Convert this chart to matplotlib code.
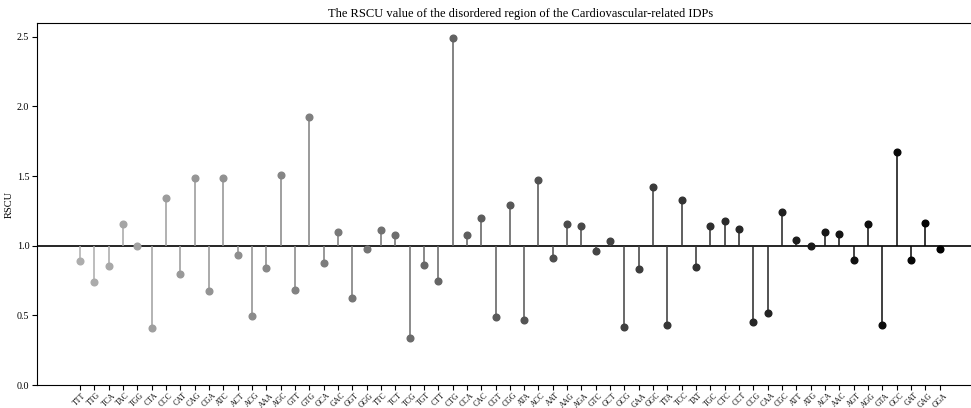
import numpy as np
import matplotlib
matplotlib.use('Agg')
import matplotlib.pyplot as plt

plt.rcParams['font.family'] = 'Liberation Serif'

# codons in plotting order and their RSCU in the disordered region
codons = ['TTT', 'TTG', 'TCA', 'TAC', 'TGG', 'CTA', 'CCC', 'CAT', 'CAG', 'CGA',
          'ATC', 'ACT', 'ACG', 'AAA', 'AGC', 'GTT', 'GTG', 'GCA', 'GAC', 'GGT',
          'GGG', 'TTC', 'TCT', 'TCG', 'TGT', 'CTT', 'CTG', 'CCA', 'CAC', 'CGT',
          'CGG', 'ATA', 'ACC', 'AAT', 'AAG', 'AGA', 'GTC', 'GCT', 'GCG', 'GAA',
          'GGC', 'TTA', 'TCC', 'TAT', 'TGC', 'CTC', 'CCT', 'CCG', 'CAA', 'CGC',
          'ATT', 'ATG', 'ACA', 'AAC', 'AGT', 'AGG', 'GTA', 'GCC', 'GAT', 'GAG',
          'GGA']
rscu = [0.89, 0.74, 0.855, 1.157, 1.0, 0.41, 1.343, 0.80, 1.487, 0.675,
        1.49, 0.935, 0.495, 0.84, 1.51, 0.68, 1.925, 0.88, 1.10, 0.625,
        0.98, 1.11, 1.075, 0.34, 0.86, 0.745, 2.49, 1.08, 1.20, 0.49,
        1.295, 0.47, 1.47, 0.91, 1.16, 1.14, 0.965, 1.035, 0.42, 0.835,
        1.425, 0.435, 1.33, 0.85, 1.14, 1.18, 1.12, 0.455, 0.515, 1.245,
        1.045, 1.0, 1.10, 1.085, 0.895, 1.16, 0.435, 1.67, 0.90, 1.165,
        0.98]

baseline = 1.0

fig = plt.figure(figsize=(9.71, 4.08), dpi=100)
ax = fig.add_axes([0.038, 0.056, 0.997, 0.888])

x = np.arange(len(codons))
# light grey on the left fading to black on the right
greys = np.linspace(0.68, 0.0, len(codons))
for i, (xi, v) in enumerate(zip(x, rscu)):
    c = (greys[i], greys[i], greys[i])
    ax.vlines(xi, baseline, v, color=c, linewidth=1.1, zorder=2)
    ax.plot(xi, v, 'o', color=c, markersize=4.8, zorder=3)

ax.axhline(baseline, color='black', linewidth=1.2, zorder=1)

ax.set_xlim(-3, 64.55)
ax.set_ylim(0, 2.6)
ax.set_yticks([0.0, 0.5, 1.0, 1.5, 2.0, 2.5])
ax.set_xticks(x)
ax.set_xticklabels(codons, rotation=45, fontsize=5.6)
ax.tick_params(axis='x', pad=1)
ax.tick_params(axis='y', labelsize=7.2, pad=2)
ax.set_ylabel('RSCU', fontsize=7.5, labelpad=2)
ax.set_title('The RSCU value of the disordered region of the Cardiovascular-related IDPs', fontsize=9, pad=4)

fig.savefig('out.png', dpi=100)
